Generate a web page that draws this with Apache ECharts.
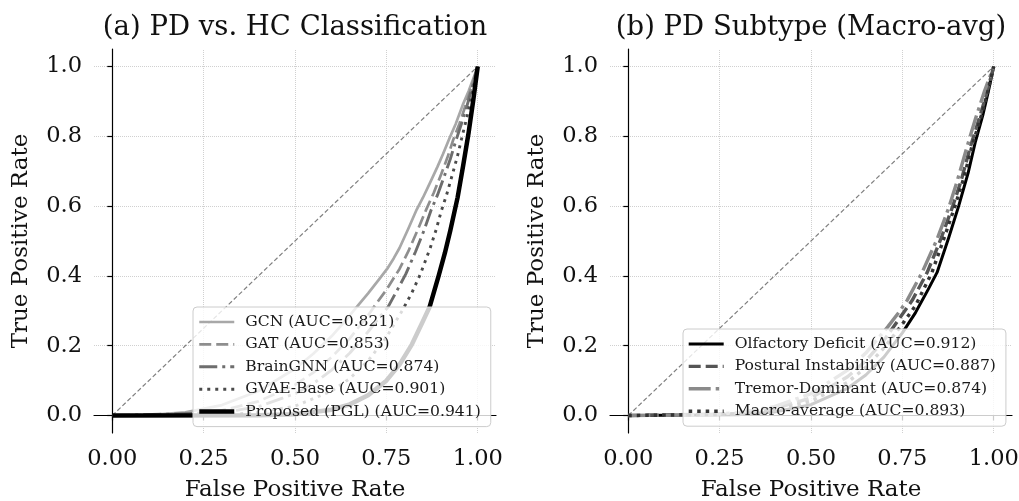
<!DOCTYPE html>
<html><head><meta charset="utf-8">
<script src="https://cdn.jsdelivr.net/npm/echarts@6/dist/echarts.min.js"></script>
<style>html,body{margin:0;padding:0;background:#fff}#c{width:1019px;height:501px}</style>
</head><body><div id="c"></div>
<script>
// ---- data ----
const xTicks = [0, 0.25, 0.5, 0.75, 1.0];
const yTicks = [0, 0.2, 0.4, 0.6, 0.8, 1.0];
const titleA = '(a) PD vs. HC Classification';
const titleB = '(b) PD Subtype (Macro-avg)';
const xLabel = 'False Positive Rate';
const yLabel = 'True Positive Rate';
const chanceFpr = [0, 1];
const chanceTpr = [0, 1];

const namesA = ['GCN (AUC=0.821)', 'GAT (AUC=0.853)', 'BrainGNN (AUC=0.874)', 'GVAE-Base (AUC=0.901)', 'Proposed (PGL) (AUC=0.941)'];
const gcnFpr  = [0, 0.1, 0.2, 0.3, 0.4, 0.5, 0.55, 0.6, 0.64, 0.66, 0.7, 0.73, 0.752, 0.77, 0.786, 0.81, 0.833, 0.85, 0.87, 0.89, 0.905, 0.923, 0.94, 0.959, 0.975, 0.99, 1.0];
const gcnTpr  = [0, 0.0013, 0.009, 0.03, 0.07, 0.134, 0.177, 0.227, 0.274, 0.30, 0.35, 0.39, 0.42, 0.45, 0.48, 0.535, 0.59, 0.624, 0.668, 0.713, 0.749, 0.795, 0.836, 0.89, 0.929, 0.971, 1.0];
const gatFpr  = [0, 0.2, 0.3, 0.4, 0.5, 0.55, 0.6, 0.65, 0.7, 0.72, 0.75, 0.786, 0.81, 0.835, 0.859, 0.88, 0.9, 0.917, 0.933, 0.95, 0.965, 0.98, 1.0];
const gatTpr  = [0, 0.0036, 0.0148, 0.0405, 0.088, 0.123, 0.167, 0.221, 0.287, 0.317, 0.36, 0.42, 0.47, 0.53, 0.59, 0.639, 0.691, 0.739, 0.79, 0.836, 0.883, 0.932, 1.0];
const bgnFpr  = [0, 0.3, 0.4, 0.5, 0.55, 0.6, 0.65, 0.7, 0.73, 0.754, 0.78, 0.803, 0.83, 0.853, 0.873, 0.89, 0.91, 0.925, 0.941, 0.955, 0.97, 0.985, 1.0];
const bgnTpr  = [0, 0.0081, 0.0256, 0.0625, 0.0915, 0.13, 0.179, 0.24, 0.28, 0.31, 0.36, 0.405, 0.47, 0.53, 0.59, 0.632, 0.69, 0.735, 0.79, 0.834, 0.885, 0.941, 1.0];
const gvaeFpr = [0, 0.3, 0.4, 0.5, 0.6, 0.65, 0.7, 0.75, 0.793, 0.82, 0.843, 0.87, 0.887, 0.9, 0.915, 0.93, 0.945, 0.957, 0.97, 0.985, 1.0];
const gvaeTpr = [0, 0.0019, 0.0085, 0.027, 0.07, 0.106, 0.157, 0.224, 0.30, 0.352, 0.405, 0.48, 0.535, 0.585, 0.633, 0.688, 0.745, 0.798, 0.853, 0.924, 1.0];
const pglFpr  = [0, 0.4, 0.5, 0.6, 0.65, 0.7, 0.75, 0.786, 0.82, 0.85, 0.868, 0.893, 0.91, 0.925, 0.945, 0.96, 0.975, 0.988, 1.0];
const pglTpr  = [0, 0.0007, 0.0039, 0.0168, 0.032, 0.058, 0.10, 0.146, 0.204, 0.27, 0.31, 0.40, 0.465, 0.53, 0.625, 0.715, 0.81, 0.905, 1.0];

const namesB = ['Olfactory Deficit (AUC=0.912)', 'Postural Instability (AUC=0.887)', 'Tremor-Dominant (AUC=0.874)', 'Macro-average (AUC=0.893)'];
const olfFpr = [0, 0.3, 0.4, 0.5, 0.6, 0.65, 0.7, 0.75, 0.786, 0.82, 0.845, 0.877, 0.904, 0.93, 0.95, 0.97, 0.985, 1.0];
const olfTpr = [0, 0.0024, 0.0102, 0.031, 0.078, 0.116, 0.168, 0.237, 0.295, 0.36, 0.41, 0.51, 0.60, 0.695, 0.785, 0.86, 0.927, 1.0];
const posFpr = [0, 0.3, 0.4, 0.5, 0.6, 0.65, 0.7, 0.75, 0.777, 0.818, 0.855, 0.886, 0.91, 0.936, 0.96, 0.98, 1.0];
const posTpr = [0, 0.0056, 0.0195, 0.0508, 0.111, 0.157, 0.216, 0.29, 0.33, 0.41, 0.505, 0.594, 0.67, 0.77, 0.85, 0.92, 1.0];
const treFpr = [0, 0.2, 0.3, 0.4, 0.5, 0.6, 0.65, 0.71, 0.74, 0.763, 0.804, 0.845, 0.877, 0.9, 0.927, 0.95, 0.975, 1.0];
const treTpr = [0, 0.0016, 0.0081, 0.0256, 0.0625, 0.13, 0.179, 0.254, 0.295, 0.33, 0.41, 0.505, 0.595, 0.672, 0.77, 0.85, 0.93, 1.0];
const macFpr = [0, 0.3, 0.4, 0.5, 0.6, 0.65, 0.7, 0.75, 0.786, 0.831, 0.863, 0.893, 0.918, 0.94, 0.965, 0.985, 1.0];
const macTpr = [0, 0.0039, 0.0147, 0.041, 0.095, 0.138, 0.194, 0.262, 0.315, 0.41, 0.505, 0.597, 0.68, 0.77, 0.855, 0.933, 1.0];

// ---- styles ----
const F = 'DejaVu Serif';
const pairs = (f, t) => f.map((v, i) => [v, t[i]]);
const stylesA = [
  {color: '#a8a8a8', width: 2.7, type: 'solid'},
  {color: '#8e8e8e', width: 2.7, type: [12, 5]},
  {color: '#6e6e6e', width: 2.9, type: [18, 5, 3, 5]},
  {color: '#4a4a4a', width: 2.9, type: [3, 5]},
  {color: '#000000', width: 4.5, type: 'solid'}
];
const dataA = [pairs(gcnFpr, gcnTpr), pairs(gatFpr, gatTpr), pairs(bgnFpr, bgnTpr), pairs(gvaeFpr, gvaeTpr), pairs(pglFpr, pglTpr)];
const stylesB = [
  {color: '#000000', width: 3, type: 'solid'},
  {color: '#555555', width: 3.4, type: [12, 5]},
  {color: '#8a8a8a', width: 3.4, type: [22, 5, 3.5, 5]},
  {color: '#333333', width: 3.4, type: [3.5, 5]}
];
const dataB = [pairs(olfFpr, olfTpr), pairs(posFpr, posTpr), pairs(treFpr, treTpr), pairs(macFpr, macTpr)];

const gridLine = {type: 'dotted', color: '#d0d0d0', width: 1};
function gridMarks() {
  return {
    silent: true, symbol: ['none', 'none'], label: {show: false}, z: 0,
    lineStyle: gridLine, emphasis: {disabled: true},
    data: xTicks.map(v => ({xAxis: v})).concat(yTicks.map(v => ({yAxis: v})))
  };
}
function xAxisCfg(gi) {
  return {
    type: 'value', gridIndex: gi, min: -0.05, max: 1.05,
    name: xLabel, nameLocation: 'middle', nameGap: 46,
    nameTextStyle: {fontFamily: F, fontSize: 23, color: '#111'},
    axisLine: {show: true, lineStyle: {color: '#000', width: 1.2}},
    axisTick: {show: true, inside: false, length: 5, lineStyle: {color: '#000', width: 1.2}, customValues: xTicks},
    axisLabel: {customValues: xTicks, formatter: v => v.toFixed(2), fontFamily: F, fontSize: 22.5, color: '#111', margin: 15},
    splitLine: {show: false}
  };
}
function yAxisCfg(gi) {
  return {
    type: 'value', gridIndex: gi, min: -0.05, max: 1.05,
    name: yLabel, nameLocation: 'middle', nameGap: 61,
    nameTextStyle: {fontFamily: F, fontSize: 23, color: '#111'},
    axisLine: {show: true, lineStyle: {color: '#000', width: 1.2}},
    axisTick: {show: true, inside: false, length: 5, lineStyle: {color: '#000', width: 1.2}, customValues: yTicks},
    axisLabel: {customValues: yTicks, formatter: v => v.toFixed(1), fontFamily: F, fontSize: 22.5, color: '#111', margin: 12},
    splitLine: {show: false}
  };
}
function curve(name, data, st, gi) {
  return {
    type: 'line', name: name, data: data, xAxisIndex: gi, yAxisIndex: gi,
    symbol: 'none', smooth: false, z: 2, silent: true,
    lineStyle: {color: st.color, width: st.width, type: st.type, cap: 'butt', join: 'round'},
    itemStyle: {color: st.color},
    emphasis: {disabled: true}
  };
}
function chance(gi) {
  return {
    type: 'line', name: 'chance' + gi, data: pairs(chanceFpr, chanceTpr), xAxisIndex: gi, yAxisIndex: gi,
    symbol: 'none', z: 1, silent: true,
    lineStyle: {color: '#808080', width: 1.2, type: [4.5, 2.5]},
    markLine: gridMarks()
  };
}
function legendCfg(names, styles, left, top) {
  return {
    orient: 'vertical', left: left, top: top, z: 10,
    data: names.map((n, i) => ({name: n, lineStyle: {color: styles[i].color, width: styles[i].width, type: styles[i].type, cap: 'butt'}})),
    itemWidth: 35, itemHeight: 14, itemGap: 6.4, padding: [7, 10, 7, 4],
    backgroundColor: 'rgba(255,255,255,0.8)', borderColor: '#cccccc', borderWidth: 1, borderRadius: 4,
    textStyle: {fontFamily: F, fontSize: 15.6, color: '#1a1a1a', padding: [0, 0, 0, 6]},
    itemStyle: {color: 'rgba(0,0,0,0)', borderWidth: 0, opacity: 0},
    selectedMode: false
  };
}

const series = [chance(0), chance(1)];
namesA.forEach((n, i) => series.push(curve(n, dataA[i], stylesA[i], 0)));
namesB.forEach((n, i) => series.push(curve(n, dataB[i], stylesB[i], 1)));

const chart = echarts.init(document.getElementById('c'), null, {renderer: 'canvas'});
chart.setOption({
  backgroundColor: '#ffffff',
  animation: false,
  grid: [
    {left: 94, top: 49, width: 402, height: 384, outerBoundsMode: 'none', containLabel: false},
    {left: 610, top: 49, width: 402, height: 384, outerBoundsMode: 'none', containLabel: false}
  ],
  xAxis: [xAxisCfg(0), xAxisCfg(1)],
  yAxis: [yAxisCfg(0), yAxisCfg(1)],
  legend: [legendCfg(namesA, stylesA, 193, 307), legendCfg(namesB, stylesB, 683, 329)],
  graphic: [
    {type: 'text', x: 295, y: 28, z: 10, style: {text: titleA, fontFamily: F, fontSize: 27.5, fill: '#111', align: 'center', verticalAlign: 'middle'}},
    {type: 'text', x: 811, y: 28, z: 10, style: {text: titleB, fontFamily: F, fontSize: 27.5, fill: '#111', align: 'center', verticalAlign: 'middle'}}
  ],
  series: series
});
</script></body></html>
